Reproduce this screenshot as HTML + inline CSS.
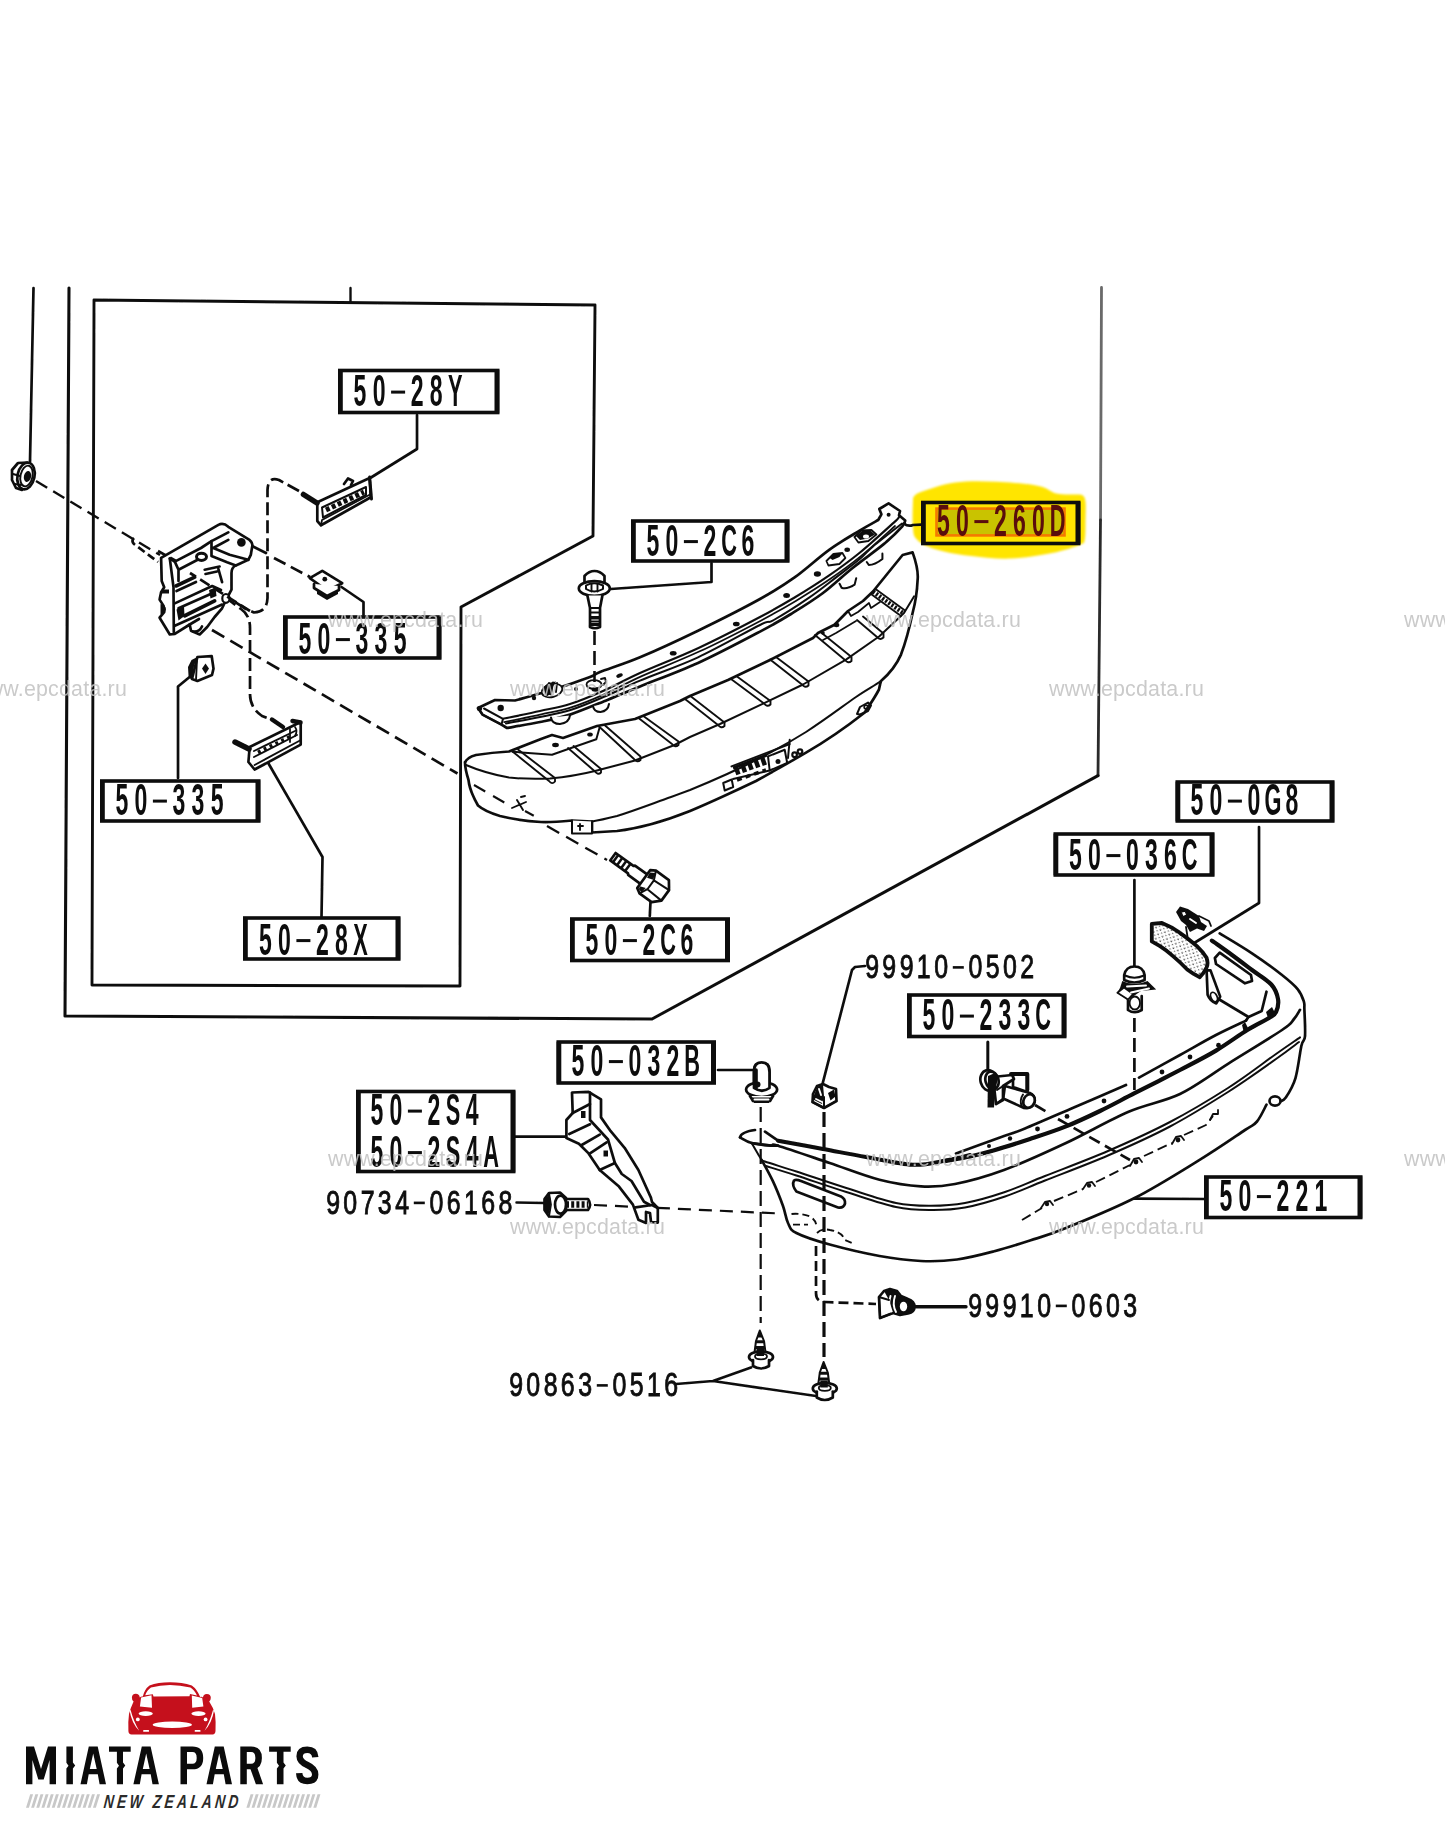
<!DOCTYPE html>
<html><head><meta charset="utf-8"><title>Rear bumper parts diagram</title>
<style>
html,body{margin:0;padding:0;background:#fff;}
body{width:1445px;height:1830px;overflow:hidden;font-family:"Liberation Sans",sans-serif;}
svg{display:block;position:absolute;left:0;top:0}
.ln{fill:none;stroke:#111;stroke-width:2.7;stroke-linecap:round;stroke-linejoin:round}
.th{fill:none;stroke:#111;stroke-width:1.9;stroke-linecap:round;stroke-linejoin:round}
.tk{fill:none;stroke:#0a0a0a;stroke-width:3.4;stroke-linecap:round;stroke-linejoin:round}
.ds{fill:none;stroke:#111;stroke-width:2.7;stroke-dasharray:13 6;stroke-linejoin:round}
.wf{fill:#fff;stroke:#111;stroke-width:2.7;stroke-linejoin:round;stroke-linecap:round}
.bk{fill:#111;stroke:none}
.wm{font-family:"Liberation Sans",sans-serif;font-size:21.4px;fill:#c2c2c2;letter-spacing:0.2px}
</style></head><body>
<svg width="1445" height="1830" viewBox="0 0 1445 1830">
<defs>
<filter id="soft" filterUnits="userSpaceOnUse" x="0" y="0" width="1445" height="1830"><feGaussianBlur stdDeviation="0.45"/></filter>
<filter id="hl" x="-5%" y="-10%" width="110%" height="120%"><feGaussianBlur stdDeviation="1.2"/></filter>
</defs>
<rect x="0" y="0" width="1445" height="1830" fill="#fff"/>
<g id="diagram" filter="url(#soft)">
<g id="frames">
<!-- yellow highlighter blob behind 50-260D -->
<path d="M913.1 497.7 C914.4 496.8 913.8 494.6 920.8 492.1 C927.8 489.6 942.7 484.2 955.4 482.5 C968.1 480.8 983.1 481.2 996.9 481.8 C1010.7 482.4 1028.5 483.9 1038.4 485.9 C1048.3 487.8 1050.3 492.1 1056.4 493.5 C1062.5 494.9 1070.6 494.2 1075.0 494.5 C1079.4 494.8 1081.0 494.2 1082.7 495.5 C1084.5 496.8 1085.0 497.9 1085.5 502.0 C1086.0 506.1 1085.6 513.8 1085.5 520.0 C1085.4 526.2 1085.7 535.1 1084.8 539.2 C1083.9 543.3 1085.3 542.4 1079.9 544.7 C1074.5 547.0 1063.7 550.7 1052.2 553.0 C1040.7 555.3 1024.5 558.1 1010.7 558.6 C996.9 559.1 981.9 557.4 969.2 555.8 C956.5 554.2 943.4 551.7 934.6 548.9 C925.8 546.1 920.2 543.1 916.6 539.2 C913.0 535.3 913.4 532.3 912.8 525.4 C912.2 518.5 913.0 502.3 913.1 497.7Z" fill="#ffe500" filter="url(#hl)"/>
<rect x="936.500" y="508.600" width="128" height="26.800" fill="#c9c300" stroke="#f47a00" stroke-width="2.600"/>
<!-- thin line top-left -->
<path class="th" d="M33.500 288 L30 462" style="stroke-width:2.700"/>
<!-- outer frame -->
<path class="ln" d="M1101.500 287.500 L1100.500 520" style="stroke:#6a6a6a;stroke-width:2.800"/>
<path class="ln" d="M1100.500 520 L1098 775.600" style="stroke:#2a2a2a;stroke-width:2.800"/>
<path class="ln" d="M1098 775.600 L652 1019 L65 1016 L69 288" style="stroke-width:3.100"/>
<!-- inner box -->
<path class="ln" d="M94 300 L595 305 L593 536 L461 607 L460 986 L92 985 Z" style="stroke-width:2.900"/>
<path class="th" d="M350.500 288 V302" style="stroke-width:2.400"/>
</g>
<g id="bar">
<path class="wf" d="M478 708 L495 700 L515.0 700.5 C521.7 698.6 542.5 692.9 555.0 689.0 C567.5 685.1 582.5 679.8 590.0 677.0 C597.5 674.2 591.7 675.3 600.0 672.0 C608.3 668.7 623.7 664.2 640.0 657.3 C656.3 650.4 678.0 640.4 698.0 630.7 C718.0 621.0 743.9 607.9 760.0 599.0 C776.1 590.1 783.1 585.6 794.6 577.4 C806.1 569.2 818.3 557.6 829.2 549.8 C840.1 542.0 851.8 535.4 860.0 530.4 C868.2 525.4 875.2 521.7 878.2 520.0 L881.4 514.3 L879.3 509 L888.6 503.4 L900 511 L899 515.3 L905.2 520.5 L905.2 520.5 C904.7 521.5 905.7 522.7 902.1 526.7 C898.5 530.7 891.7 537.5 883.4 544.4 C875.1 551.3 862.5 560.0 852.3 568.2 C842.1 576.4 832.5 585.9 822.3 593.5 C812.1 601.1 801.4 607.6 791.0 614.0 C780.6 620.4 775.5 623.4 760.0 631.6 C744.5 639.8 718.0 653.9 698.0 663.0 C678.0 672.1 655.0 680.3 640.0 686.4 C625.0 692.5 619.7 695.0 608.0 699.7 C596.3 704.4 581.3 710.9 570.0 714.6 C558.7 718.3 550.5 719.8 540.0 722.0 C529.5 724.2 512.5 727.0 507.0 728.0 L501.5 724.6 L482.5 714.6 Z"/>
<path class="ln" style="stroke-width:2.200" d="M503.0 718.8 C509.2 717.5 528.8 713.5 540.0 711.0 C551.2 708.5 559.5 707.3 570.0 704.0 C580.5 700.7 591.3 696.2 603.0 691.0 C614.7 685.8 624.2 680.1 640.0 673.0 C655.8 665.9 678.0 657.5 698.0 648.2 C718.0 638.9 743.9 625.5 760.0 617.0 C776.1 608.5 783.1 604.4 794.6 597.5 C806.1 590.6 818.3 582.9 829.2 575.4 C840.1 567.9 849.2 561.3 860.0 552.5 C870.8 543.7 887.3 528.5 893.8 522.6 C900.3 516.7 898.1 517.9 899.0 517.0"/>
<path class="ln" style="stroke-width:1.700" d="M504.2 722.2 C510.4 720.9 530.0 716.9 541.2 714.4 C552.4 711.9 560.7 710.7 571.2 707.4 C581.7 704.1 592.5 699.6 604.2 694.4 C615.9 689.2 625.4 683.5 641.2 676.4 C657.0 669.3 679.2 660.9 699.2 651.6 C719.2 642.3 745.1 628.9 761.2 620.4 C777.3 611.9 784.3 607.8 795.8 600.9 C807.3 594.0 819.5 586.3 830.4 578.8 C841.3 571.3 850.4 564.7 861.2 555.9 C872.0 547.1 889.4 531.0 895.0 526.0"/>
<path class="ln" style="stroke-width:2" d="M506.0 723.5 C511.7 722.4 529.0 719.3 540.0 717.0 C551.0 714.7 561.0 713.0 572.0 709.5 C583.0 706.0 594.7 700.8 606.0 696.0 C617.3 691.2 624.7 687.1 640.0 680.6 C655.3 674.1 678.0 666.6 698.0 657.3 C718.0 648.0 747.4 631.2 760.0 625.0 C772.6 618.8 765.7 624.5 773.8 620.0 C781.9 615.5 798.0 605.3 808.4 598.2 C818.8 591.1 827.5 584.0 836.1 577.4 C844.7 570.8 853.9 564.0 860.0 558.8 C866.1 553.6 866.0 552.3 873.0 546.4 C880.0 540.5 897.2 527.3 902.0 523.5"/>
<path class="ln" style="stroke-width:2" d="M478 708 L482.500 714.600 L501.500 724.600 L503 718.800 L484 708.500"/>
<path class="wf" style="stroke-width:2" d="M551 717.500 q1 6.500 9 6.500 q9 -1 10 -8.500 M593 706 q1 6 7.500 6 q7.500 -1 8.500 -8 M839.600 583.700 l2 4 q5 2 13 -3 l1.600 -6.500 M866.800 562 l2 3 q6 0 13.600 -6 l0 -5.500"/>
<circle class="bk" cx="500.700" cy="708" r="3.200"/><circle class="bk" cx="479.500" cy="708.500" r="2.600"/>
<circle class="bk" cx="534" cy="698" r="2.200"/><circle class="bk" cx="576" cy="689" r="2"/>
<ellipse class="bk" cx="619.500" cy="675.600" rx="3.400" ry="1.900" transform="rotate(-22 619.500 675.600)"/>
<ellipse class="bk" cx="673.200" cy="653.200" rx="3.400" ry="2.300"/>
<ellipse class="bk" cx="736.300" cy="624" rx="3.400" ry="2.300"/>
<ellipse class="bk" cx="786.600" cy="595.400" rx="3.400" ry="2.500"/>
<ellipse class="bk" cx="817.400" cy="574" rx="3.600" ry="2.700"/>
<ellipse class="bk" cx="847.200" cy="549.800" rx="2.800" ry="2.200"/><circle class="bk" cx="888.600" cy="514.800" r="2"/>
<ellipse cx="552" cy="690.500" rx="10.500" ry="6.500" class="wf" style="stroke-width:1.800" transform="rotate(-14 552 690.500)"/>
<path class="bk" d="M543 688 l5 -5 l8 -1.500 l-3 5 l-2 8 l-5 1.500 z"/>
<path class="th" d="M549 683 l-2 12 M553 682.500 l-2 12 M557 683 l-1 9"/>
<ellipse cx="594" cy="684.500" rx="7.500" ry="4.400" class="wf" style="stroke-width:1.800"/>
<ellipse cx="595.500" cy="689.500" rx="4" ry="2.200" class="bk"/>
<path class="th" d="M601 679 l4 -1 l1 4 l-3 3"/>
<path class="wf" style="stroke-width:1.800" d="M826.400 561 l7 -7 l9 -1 l3 5 l-6 6 l-11 1.500 z"/>
<path class="bk" d="M829 557.500 l6 -4.500 l7.500 0 l-3 4 l-7 3 z"/>
<path class="wf" style="stroke-width:1.800" d="M854.400 537 l7 -6.500 l10 -0.500 l5 4.500 l-8 6.500 l-10 1.500 z"/>
<path class="bk" d="M856 536 l6 -5 l9 0 l4 3.500 l-7 4 l-8 1.500 z"/>
<ellipse cx="866" cy="536.500" rx="3" ry="2" fill="#fff"/>
</g>
<path class="ln" d="M904 523.500 Q908 527 913 525 L921 524.600"/>
<g id="foam">
<!-- outer silhouette filled white -->
<path class="wf" d="M465 763 Q466.500 757.500 476 755 Q492 752.500 509 751.500 L541 739 L552 735 L563 738 L597 726 L635 719 L680 701 L690 696 L728 680 L770 660 L813 638 L818 633 L834.5 624.7 L848 611 L863 601 L873 591.5 L902.6 555 L912.6 552.4 C916 562 918.5 572 917.6 580 C917 594 915 604 912.6 613 C909 630 905 644 901 654.6 C896 666 889 674 881 681 C880 684 879.5 687 879 689.5 C874 699 869 706 864.4 712.7 C845 728 826 741 806 752.6 C790 762 774 771 756 781 C735 791 714 801 690 811 C665 821 642 828 617 831 L592 832.5 L592 821.5 L572 820.5 C556 822 548 822.5 541 822 C525 821 512 819 500 816 C490 813 482 809 478 805.5 C472 795 469 785 468.5 780 C466 772 465 767 465 762 Z"/>
<!-- front-top edge -->
<path class="ln" d="M466 765 C480 771 495 775 509 777.6 C523 779 537 779 550 778.5 C566 777 581 774.5 595 771 L635 760.5 L674.5 745 L690 737 L720 724 L764.7 702.8 L803 684.5 L846 659.6 L879.4 636.3 L904 613 L914 596.4" style="stroke-width:2"/>
<!-- bottom of front face (upper branch) -->
<path class="ln" d="M592 821.5 C601 820 609 818 617 816 C636 810 654 803 671 797 L690 790 C712 781 735 771 756 760 C774 751 790 742 806 732 C826 719 843 706 856 697 C866 690 874 686 881 681" style="stroke-width:2"/>
<!-- tab under -->
<path class="wf" d="M572 820.5 L572 833.5 L592 833.5 L592 821.5" style="stroke-width:2"/>
<path class="th" d="M580 824 v6 M578 826 h5"/>
<!-- ribs (double lines with rounded front ends) -->
<g class="ln" style="stroke-width:1.9">
<path d="M512.5 751.5 L549 781 q3 4 6 0.5 L555 778 L518 749.5"/>
<path d="M568 748 L595 771.5 q3 4 6 1 L601 769 L573.5 746"/>
<path d="M599 726.5 L634 759 q3 4 6.5 1 L640.5 756.5 L604.5 725"/>
<path d="M638.5 718 L672 744 q3 4 6.5 1 L678.5 741.5 L644 716.5"/>
<path d="M685 699 L718 725 q3 4 6.5 1 L724.5 722.5 L691 696.5"/>
<path d="M731 679 L764 703.5 q3 4 6.500 1 L770.5 701 L737 676.5"/>
<path d="M770 659.5 L802 684.5 q3 4 6.500 1 L808.5 681.500 L776 657"/>
<path d="M815 635 L845 660 q3 4 6.500 1 L851.5 657 L820.5 632"/>
<path d="M857 620 L877 637 q3 3.500 6.500 0.500 L883.5 633.500 L863 616.5"/>
</g>
<!-- hatched last rib -->
<path d="M873 591.5 L903 613" stroke="#111" stroke-width="4.2" stroke-dasharray="2.2 1.6" fill="none"/>
<path class="th" d="M871 594 L901 616 M875.5 589 L905 610.5"/>
<!-- step plates -->
<path class="ln" d="M512.500 751.800 L535 753.500 L552 754.800 L567.500 749.200 L596.300 739.300 L599.600 727.600" style="stroke-width:2"/>
<ellipse class="bk" cx="555.5" cy="745" rx="3.4" ry="2.2"/><ellipse class="bk" cx="590" cy="734.500" rx="2.8" ry="2"/>
<path class="ln" d="M823 640 L836 633 L856 621 M848 611 L851 616 L858 612 L869 603 L871 608 L880 602" style="stroke-width:1.8"/>
<ellipse class="bk" cx="836.5" cy="625" rx="2.8" ry="2.2"/>
<circle class="bk" cx="823" cy="633" r="1.8"/>
<!-- small clip symbol near right end of face -->
<path class="ln" d="M857 714 l3 -7 l8 -4.500 l3 3 l-3 5.500 l-8 3.500 z" style="stroke-width:2"/><circle class="ln" cx="866" cy="707" r="1.800" style="stroke-width:1.800"/>
<!-- licence-lamp-ish detail cluster on front face -->
<g class="ln" style="stroke-width:2">
<path d="M723.200 783 l8.500 -3.500 l1.500 7.500 l-8.500 3.500 z"/>
<path d="M731.500 766.400 L789.700 744"/>
<path d="M768 756.400 L784.700 749.800 L787.200 763 L769.700 770.500 Z"/>
<path d="M789.700 739.800 L788 758"/>
<path d="M733 779 L769.700 770.500"/>
</g>
<path d="M735 771.500 L766 760.500" stroke="#111" stroke-width="8" stroke-dasharray="4.500 2.500" fill="none"/>
<path d="M733 768 L767 755" stroke="#111" stroke-width="3" fill="none"/>
<path d="M737 780 L766 770" stroke="#111" stroke-width="3.500" stroke-dasharray="5 4" fill="none"/>
<circle class="bk" cx="778" cy="761.400" r="2.500"/>
<circle class="ln" cx="794.600" cy="754.700" r="2.300" style="stroke-width:2.200"/><circle class="ln" cx="800" cy="751.600" r="2.300" style="stroke-width:2.200"/>
<!-- dashed crosshair on left face -->
<path class="ds" d="M474 785 L506 803.500" style="stroke-width:2.100;stroke-dasharray:13 9"/><path class="ds" d="M525 811 L536 817" style="stroke-width:2.100;stroke-dasharray:10 6"/>
<path class="th" d="M517 800 l6 10 M512 808 l14 -6 M521 797 l4 -1"/>
</g>
<g id="dashes-left">
<!-- nut to bracket -->
<path class="ds" d="M36 481 L160 555" style="stroke-width:2.400;stroke-dasharray:13 7"/>
<path class="ds" d="M134 538 q-3 3 0 6 L158 562" style="stroke-dasharray:8 4"/>
<!-- long dashed line bracket -> lower bolt -->
<path class="ds" d="M212 630 L457.500 773.500" style="stroke-dasharray:14.200 7"/>
<path class="ds" d="M547 826 L607 860" style="stroke-width:2.300;stroke-dasharray:14 8"/>
<!-- rounded dashed loop (to 50-28Y clip) -->
<path class="ds" d="M299 491 L279 480 Q268 476 267.500 490 L267.500 598 Q267 612 254 612.500 L246 609 L190 573" style="stroke-dasharray:13 5"/>
<!-- bracket hole to top 50-335 clip -->
<path class="ln" d="M252 546 L266 553"/>
<path class="ds" d="M274 558 L310 577"/>
<!-- lower loop to 50-28X clip -->
<path class="ds" d="M225 597 L241 609 Q250 615 250 628 L250 694 Q250 708 262 716 L273 720" style="stroke-dasharray:13 5"/>
</g>
<g id="leaders-left">
<path class="ln" d="M417 415 L417 449 L371 477.500"/>
<path class="ln" d="M341.500 587 L363.500 602 L363.500 615"/>
<path class="ln" d="M189 677.500 L178 686.500 L178 778"/>
<path class="ln" d="M268.500 763.500 L322.500 857 L321.500 917"/>
</g>
<g id="nut">
<path class="wf" d="M12 470 L18 463 L27 462.500 L22 490 L16 488 L12 480 Z"/>
<ellipse class="wf" cx="26" cy="476" rx="8.500" ry="13.500" transform="rotate(12 26 476)"/>
<ellipse class="th" cx="26.500" cy="476" rx="6" ry="10.500" transform="rotate(12 26.500 476)"/>
<ellipse class="bk" cx="27.500" cy="476.500" rx="3.600" ry="5.500" transform="rotate(12 27.500 476.500)"/>
<path class="th" d="M13 474 L20 476 M15 484 L21 485"/>
</g>
<g id="bracket">
<path class="wf" d="M161.100 557.900 L218.400 524.900 Q223.400 522.400 228.300 526.800 L249.500 539.900 Q253 543 252.300 546 L250.800 554.800 L248.300 559.800 L235.800 565.400 Q231.500 567.500 231.500 573 L231.500 589.700 L226 600 L222.100 608.300 L214.600 617 L207.200 627 L199.700 634.500 L191 630.800 L189.700 624.500 L174.800 633.900 L169.800 634.500 L159.600 617.700 L164.200 612.100 L163.600 605.900 L159.600 599.600 L161.100 592.200 L164.200 587.200 L161.700 580.900 Z"/>
<path class="ln" d="M169.800 558.500 L173.500 587.200 L173.800 632"/>
<path class="ln" d="M169.800 558.500 L174.800 561.600 L201 548 L211.500 541.100 L228.300 532.400"/>
<path class="ln" d="M211.500 541.100 L211.500 556 L227.100 562.300 L235.800 565.400 M211.500 547.300 L229.600 554.800 L248.300 559.800 M214.600 547.300 L228.300 539.900"/>
<path class="ln" d="M174.800 561.600 L178.500 569.700 L178.500 581 M178.500 569.700 L201 558"/>
<path class="ln" style="stroke-width:3.600" d="M176 586 L194.700 577.200"/>
<path class="ln" d="M176.500 591 L196 582"/>
<path class="ln" d="M174.800 603.400 L212.200 586 L221 590"/>
<path class="ln" d="M178.500 608.300 L214.600 592.200"/>
<path class="ln" style="stroke-width:3.800" d="M184.800 615.800 L214.600 600.900"/>
<path class="ln" d="M174.800 625.800 L222.100 604.600"/>
<path class="ln" d="M204.700 569.700 L219.600 566.500 M205.500 574 L217 571.500 M218.400 569 L222.100 582.200"/>
<circle class="bk" cx="241.400" cy="542.400" r="4.300"/>
<ellipse class="wf" cx="201.500" cy="556.800" rx="5" ry="3.600" style="stroke-width:3"/>
<path class="bk" d="M209 590 L215.500 587.500 L216.500 596 L210.500 598.500 Z M176.500 609.500 L184 606 L184.500 616 L178.500 620.500 Z M160.500 604 q5.500 1 5.500 5.500 q-1 4.500 -5.500 5 z M162 589.500 h7 v4 h-7 z"/>
<ellipse class="wf" cx="225.900" cy="598.400" rx="3.600" ry="4.400" style="stroke-width:2.200"/>
<path class="ln" d="M189.700 624.500 L199 619 M193 631.500 q6 1 9 -5"/>
</g>
<path class="ds" style="stroke-dasharray:11 5" d="M250 611 L190 573"/>
<path class="ds" style="stroke-dasharray:9 5" d="M158 551 L176 561"/>
<g id="clip28Y">
<path class="wf" d="M317.300 502.300 L369.600 478 L370.800 497.300 L321 525.300 L317.300 521 Z"/>
<path class="ln" d="M322 507.500 L366 487 L366 495 L323 517.500 Z" style="stroke-width:2"/>
<path d="M326 510 L364 492" stroke="#111" stroke-width="5" stroke-dasharray="4 2.500" fill="none"/>
<path class="ln" d="M321 525.300 L322 520 L371 494" style="stroke-width:1.800"/>
<path class="ln" d="M344 484 L348 478.500 L353 481 L351 485"/>
<path d="M303.500 494.500 L317 503" stroke="#111" stroke-width="5.500" stroke-linecap="round" fill="none"/>
<path class="tk" d="M369.600 477 L371.500 499" style="stroke-width:3"/>
</g>
<g id="clip335a">
<path class="wf" d="M309.800 578.200 L322.300 570.800 L342.200 583.200 L327.200 590.500 Z"/>
<path class="wf" d="M314 584 L314 588 L327 596 L339 590 L339 586"/>
<path class="bk" d="M317 590 L327 596.500 L338 591 L338 594 L327 600 L317 594 Z"/>
<circle class="bk" cx="324.800" cy="579.200" r="2.400"/>
</g>
<g id="clip335b">
<path class="wf" d="M197.400 657 L211.700 656.200 L213.500 668.600 L212 675 L197.400 681 L192 679 Z"/>
<path class="bk" d="M197.400 657 L191.500 660 L188 667 L188.600 677.400 L192.500 680 L194 666 Z"/>
<path class="th" d="M197 659 L196 680"/>
<path class="bk" d="M205.500 663.500 L209 668.600 L205.500 674 L202 668.600 Z"/>
</g>
<g id="clip28X">
<path class="wf" d="M249.700 747 L300.700 722 L300.700 744.600 L254.600 769.500 L248.400 762 Z"/>
<path class="ln" d="M254 751 L296 730.500 M254 757 L297 735 M254.600 765 L300 740.500" style="stroke-width:1.900"/>
<path d="M258 752.500 L292 736" stroke="#111" stroke-width="4" stroke-dasharray="3 3.500" fill="none"/>
<path class="ln" d="M290 729 L290 742 M295 727 q3 4 0 9" style="stroke-width:1.800"/>
<path d="M235 742 L249 749" stroke="#111" stroke-width="5.500" stroke-linecap="round" fill="none"/>
<path d="M272 719.500 L283 727" stroke="#111" stroke-width="4.500" stroke-linecap="round" fill="none"/>
<path d="M292.500 721 L300.500 722.500" stroke="#111" stroke-width="4.500" stroke-linecap="round" fill="none"/>
</g>
<g id="boltTop">
<path class="ln" d="M711.500 563 L711.500 582 L610.700 589"/>
<path class="wf" d="M584.500 583 L584.500 576 Q589 571 594.500 571 Q600 571 604.500 576 L604.500 583"/>
<ellipse class="wf" cx="594.300" cy="588.500" rx="15.500" ry="7.300"/>
<path class="wf" d="M586 585.500 Q594 581 603 585.500 L603 589 Q594 594 586 589 Z" style="stroke-width:2"/>
<path class="th" d="M591.500 584 v7.500 M597.500 584 v7.500"/>
<path class="wf" d="M587.400 595.500 L590 608 L590 627 Q595 629.500 600 627 L600 608 L602.400 595.500"/>
<path class="th" d="M590 608 h10 M590 612.500 h10 M590 617 h10 M590 621.500 h10"/>
<path class="bk" d="M590 616 h10 v3.500 h-10z M590 623 h10 v3 h-10z"/>
<path class="ds" d="M594.500 631 L594.500 682" style="stroke-width:2.600;stroke-dasharray:14 6"/>
</g>
<g id="boltLow">
<path class="ln" d="M650.600 900 L649.800 916"/>
<g transform="translate(655 887.300) rotate(36)">
<path class="wf" d="M-52 -4.600 L-30 -4.600 L-29 -5.800 L-13 -5.800 L-13 5.800 L-29 5.800 L-30 4.600 L-52 4.600 Z"/>
<path d="M-50 0 L-31 0" stroke="#111" stroke-width="9.500" stroke-dasharray="2.600 2.400" fill="none"/>
<path class="wf" d="M-14 -11 L-9 -14 L7 -14 L13 -6 L13 7 L6 14 L-9 14 L-14 11 Z"/>
<path class="ln" d="M-9 -14 L-5 -5 L-5 6 L-9 14 M-5 -5 L13 -6 M-5 6 L13 7" style="stroke-width:2"/>
<path class="bk" d="M-13 -9 L-8 -12 L-6 -5 L-12 -3 Z M-13 8 L-7 6 L-8 12 L-12 11Z"/>
</g>
</g>
<g id="bumper">
<path class="wf" d="M740.0 1137.4 C740.5 1136.5 740.5 1133.2 743.0 1132.0 C745.5 1130.8 751.3 1130.1 755.0 1130.0 C758.7 1129.9 761.2 1129.8 765.0 1131.6 C768.8 1133.4 768.3 1137.8 778.0 1140.7 C787.7 1143.6 808.3 1146.3 823.0 1149.0 C837.7 1151.7 851.0 1154.4 866.0 1157.0 C881.0 1159.6 899.4 1164.2 912.7 1164.8 C926.0 1165.4 938.8 1162.4 946.0 1160.5 C953.2 1158.6 947.0 1157.2 956.0 1153.4 C965.0 1149.6 988.5 1141.7 1000.0 1137.5 C1011.5 1133.3 1012.5 1133.6 1025.0 1128.5 C1037.5 1123.4 1058.2 1114.2 1075.0 1107.0 C1091.8 1099.8 1115.3 1089.9 1126.0 1085.0 C1136.7 1080.1 1130.0 1082.6 1139.0 1077.6 C1148.0 1072.6 1167.2 1062.1 1180.0 1055.0 C1192.8 1047.9 1205.0 1040.7 1216.0 1035.0 C1227.0 1029.3 1238.4 1024.6 1246.0 1020.6 C1253.6 1016.6 1258.3 1015.8 1261.7 1011.0 C1265.1 1006.2 1268.1 998.5 1266.5 991.7 C1264.9 984.9 1257.8 976.1 1252.0 970.0 C1246.2 963.9 1238.7 959.9 1232.0 955.0 C1225.3 950.1 1214.0 944.2 1211.9 940.6 C1209.9 937.0 1213.0 931.3 1219.7 933.4 C1226.4 935.5 1241.6 946.4 1252.0 953.3 C1262.4 960.2 1274.4 969.0 1282.0 975.0 C1289.6 981.0 1294.2 984.9 1297.8 989.3 C1301.4 993.7 1302.7 997.9 1303.8 1001.3 C1304.9 1004.7 1304.2 1004.0 1304.4 1009.8 C1304.6 1015.6 1305.5 1030.2 1305.0 1036.2 C1304.5 1042.2 1303.0 1038.8 1301.4 1045.8 C1299.8 1052.8 1298.0 1069.7 1295.4 1078.3 C1292.8 1086.9 1288.4 1093.6 1285.8 1097.5 C1283.2 1101.4 1283.2 1100.3 1280.0 1101.5 C1276.8 1102.7 1270.3 1101.4 1266.5 1104.7 C1262.7 1108.0 1260.6 1117.3 1257.0 1121.5 C1253.4 1125.7 1254.5 1123.7 1245.0 1130.0 C1235.5 1136.3 1218.4 1148.3 1200.0 1159.6 C1181.6 1170.9 1156.9 1186.6 1134.6 1198.0 C1112.3 1209.4 1083.4 1220.9 1066.0 1228.0 C1048.6 1235.1 1042.1 1236.6 1030.0 1240.5 C1017.9 1244.4 1005.6 1248.3 993.4 1251.5 C981.2 1254.7 969.1 1257.9 957.0 1259.5 C944.9 1261.1 933.9 1261.6 921.0 1261.0 C908.1 1260.4 894.7 1258.8 879.5 1256.0 C864.3 1253.2 843.6 1248.3 829.7 1244.5 C815.9 1240.7 803.4 1236.6 796.4 1233.0 C789.4 1229.4 790.2 1227.5 788.0 1223.0 C785.8 1218.5 785.5 1212.9 783.0 1206.0 C780.5 1199.1 776.6 1189.1 773.0 1181.4 C769.4 1173.7 765.2 1166.2 761.6 1159.8 C758.0 1153.4 755.2 1146.7 751.6 1143.0 C748.0 1139.3 741.9 1138.3 740.0 1137.4Z" style="stroke:none"/>
<path class="ln" d="M740 1137.400 Q741 1132 755 1130 M765 1131.600 L778 1140.700 M751.600 1143 L771.500 1145.700 L778 1145.700"/>
<path class="tk" d="M778.0 1140.7 C785.5 1142.1 808.3 1146.3 823.0 1149.0 C837.7 1151.7 851.0 1154.4 866.0 1157.0 C881.0 1159.6 899.4 1164.2 912.7 1164.8 C926.0 1165.4 936.5 1162.1 946.0 1160.5 C955.5 1158.9 966.0 1155.9 970.0 1155.0" style="stroke-width:4"/>
<path class="tk" d="M946.0 1161.0 C950.0 1160.2 962.1 1158.2 970.0 1156.5 C977.9 1154.8 983.4 1153.4 993.4 1150.5 C1003.4 1147.6 1017.9 1143.0 1030.0 1139.0 C1042.1 1135.0 1054.3 1131.1 1066.0 1126.4 C1077.7 1121.7 1088.6 1116.5 1100.0 1111.0 C1111.4 1105.5 1121.3 1100.0 1134.6 1093.2 C1147.9 1086.4 1166.4 1077.1 1180.0 1070.0 C1193.6 1062.9 1204.8 1057.3 1216.0 1050.6 C1227.2 1043.9 1238.5 1035.4 1247.3 1030.0 C1256.1 1024.6 1264.2 1021.0 1269.0 1018.0 C1273.8 1015.0 1274.5 1015.2 1276.0 1012.0 C1277.5 1008.8 1278.8 1003.6 1278.0 999.0 C1277.2 994.4 1275.6 989.3 1271.3 984.5 C1267.0 979.7 1258.5 974.9 1252.0 970.0 C1245.5 965.1 1238.7 959.9 1232.0 955.0 C1225.3 950.1 1215.2 943.0 1211.9 940.6" style="stroke-width:4.200"/>
<path class="ln" d="M956.0 1153.4 C963.3 1150.8 988.5 1141.7 1000.0 1137.5 C1011.5 1133.3 1012.5 1133.6 1025.0 1128.5 C1037.5 1123.4 1058.2 1114.2 1075.0 1107.0 C1091.8 1099.8 1117.5 1088.7 1126.0 1085.0"/>
<path class="ln" d="M1139.0 1077.6 C1145.8 1073.8 1167.2 1062.1 1180.0 1055.0 C1192.8 1047.9 1205.0 1040.7 1216.0 1035.0 C1227.0 1029.3 1241.0 1023.0 1246.0 1020.6"/>
<path class="ln" d="M740.0 1137.4 C741.9 1138.3 746.4 1141.6 751.6 1143.0 C756.9 1144.4 767.1 1145.2 771.5 1145.7 C775.9 1146.2 768.3 1142.8 778.0 1145.7 C787.7 1148.6 812.8 1157.3 829.7 1163.0 C846.6 1168.7 864.3 1175.9 879.5 1179.8 C894.7 1183.7 908.4 1185.7 921.0 1186.4 C933.6 1187.1 941.2 1186.7 955.0 1184.0 C968.8 1181.3 985.5 1176.8 1004.0 1170.0 C1022.5 1163.2 1045.3 1152.7 1066.0 1143.0 C1086.7 1133.3 1109.0 1120.2 1128.0 1112.0 C1147.0 1103.8 1163.3 1102.0 1180.0 1094.0 C1196.7 1086.0 1211.0 1074.5 1228.0 1063.8 C1245.0 1053.1 1271.0 1037.5 1282.0 1030.0 C1293.0 1022.5 1291.0 1022.4 1294.0 1019.0 C1297.0 1015.6 1299.0 1011.3 1300.0 1009.8"/>
<path class="ln" d="M751.6 1143.0 C753.3 1145.8 759.4 1156.7 761.6 1159.8 C763.8 1162.9 759.1 1159.5 764.9 1161.5 C770.7 1163.5 782.8 1167.1 796.4 1171.5 C810.0 1175.9 829.7 1182.8 846.3 1188.0 C862.9 1193.2 881.9 1200.0 896.0 1203.0 C910.1 1206.0 919.5 1205.8 931.0 1205.8 C942.5 1205.8 952.7 1205.3 965.0 1203.0 C977.3 1200.7 991.7 1196.5 1005.0 1192.0 C1018.3 1187.5 1027.8 1182.8 1045.0 1176.0 C1062.2 1169.2 1087.2 1160.0 1108.0 1151.0 C1128.8 1142.0 1150.0 1132.5 1170.0 1122.0 C1190.0 1111.5 1210.3 1099.3 1228.0 1088.0 C1245.7 1076.7 1264.0 1062.4 1276.0 1054.0 C1288.0 1045.6 1296.0 1040.2 1300.0 1037.4" style="stroke-width:2"/>
<path class="ln" d="M766.0 1166.0 C771.1 1167.6 783.0 1171.2 796.4 1175.5 C809.8 1179.8 829.7 1186.8 846.3 1192.0 C862.9 1197.2 881.9 1204.0 896.0 1207.0 C910.1 1210.0 919.5 1209.9 931.0 1210.0 C942.5 1210.1 952.7 1209.8 965.0 1207.5 C977.3 1205.2 991.7 1201.0 1005.0 1196.5 C1018.3 1192.0 1027.8 1187.3 1045.0 1180.5 C1062.2 1173.7 1087.2 1164.5 1108.0 1155.5 C1128.8 1146.5 1150.0 1137.1 1170.0 1126.5 C1190.0 1115.9 1210.3 1103.2 1228.0 1092.0 C1245.7 1080.8 1264.2 1067.3 1276.0 1059.0 C1287.8 1050.7 1295.2 1044.8 1299.0 1042.0" style="stroke-width:2"/>
<path class="ln" d="M761.6 1159.8 C763.5 1163.4 769.4 1173.7 773.0 1181.4 C776.6 1189.1 780.5 1199.1 783.0 1206.0 C785.5 1212.9 785.8 1218.5 788.0 1223.0 C790.2 1227.5 789.4 1229.4 796.4 1233.0 C803.4 1236.6 815.9 1240.7 829.7 1244.5 C843.6 1248.3 864.3 1253.2 879.5 1256.0 C894.7 1258.8 908.1 1260.4 921.0 1261.0 C933.9 1261.6 944.9 1261.1 957.0 1259.5 C969.1 1257.9 981.2 1254.7 993.4 1251.5 C1005.6 1248.3 1017.9 1244.4 1030.0 1240.5 C1042.1 1236.6 1048.6 1235.1 1066.0 1228.0 C1083.4 1220.9 1112.3 1209.4 1134.6 1198.0 C1156.9 1186.6 1181.6 1170.9 1200.0 1159.6 C1218.4 1148.3 1235.5 1136.3 1245.0 1130.0 C1254.5 1123.7 1253.4 1125.7 1257.0 1121.5 C1260.6 1117.3 1264.9 1107.5 1266.5 1104.7"/>
<path class="ln" d="M1219.7 933.4 C1225.1 936.7 1241.6 946.4 1252.0 953.3 C1262.4 960.2 1274.4 969.0 1282.0 975.0 C1289.6 981.0 1294.2 984.9 1297.8 989.3 C1301.4 993.7 1302.7 997.9 1303.8 1001.3 C1304.9 1004.7 1304.2 1004.0 1304.4 1009.8 C1304.6 1015.6 1305.5 1030.2 1305.0 1036.2 C1304.5 1042.2 1303.0 1038.8 1301.4 1045.8 C1299.8 1052.8 1298.0 1069.7 1295.4 1078.3 C1292.8 1086.9 1288.4 1093.6 1285.8 1097.5 C1283.2 1101.4 1281.0 1100.8 1280.0 1101.5"/>
<g class="bk"><circle cx="989" cy="1146" r="2"/><circle cx="1010" cy="1138.500" r="2.200"/><circle cx="1037.500" cy="1129" r="2.400"/><circle cx="1067" cy="1116.400" r="2.400"/><circle cx="1104" cy="1101" r="2.400"/><circle cx="1162" cy="1072" r="2.400"/><circle cx="1190" cy="1057" r="2.400"/><circle cx="1218.500" cy="1045.200" r="2.400"/></g>
<path class="ln" d="M794 1180.500 Q791.500 1185 796.400 1191.500 L838 1207.500 Q843.500 1208.500 845 1203.500 Q845.500 1199 841 1196.400 L801 1181 Q796 1179 794 1180.500 Z"/>
<path class="ln" d="M1219.700 952.700 L1251 975 L1252 981 L1245 983.300 L1216 964 L1214.900 958 Z"/>
<path class="ln" d="M1218.500 999 L1248.500 1017 L1261.700 1011 L1266.500 991.700 M1246 1020.600 L1248.500 1017"/>
<path class="bk" d="M1266 1012 l6 -5 l3 6 l-7 5 z M1245 1022 l4 8 l-5 3 l-2 -8z"/>
<ellipse class="wf" cx="1275" cy="1101" rx="5.500" ry="4.600"/>
<path class="ds" d="M1022 1220 L1042 1208 M1054 1201 L1083 1189 M1096 1182 L1130 1165 M1144 1156 L1172 1143 M1184 1135 L1206 1125 L1213 1116" style="stroke-width:1.900;stroke-dasharray:10 5"/>
<g class="ln" style="stroke-width:1.800"><path d="M1041 1208 l4 -6 l5 -1 l3 4"/><path d="M1083 1189 l4 -6 l5 -1 l3 4"/><path d="M1130 1166 l4 -7 l5 -1 l3 4"/><path d="M1172 1144 l4 -7 l5 -1 l3 4"/><path d="M1210 1120 l3 -6 l5 0 l0 -4"/></g>
<g class="bk"><circle cx="1047" cy="1204" r="2.200"/><circle cx="1089" cy="1185.500" r="2.200"/><circle cx="1136" cy="1162" r="2.400"/><circle cx="1178" cy="1140" r="2.400"/></g>
<path class="ds" d="M791.500 1214 Q800 1213 809.700 1216.300 Q816 1220 816.400 1226 M793 1224.600 L808 1224.600 M817 1233 Q822 1228 830 1230 Q842 1232 845 1240 L852 1243" style="stroke-width:1.900;stroke-dasharray:7 4"/>
</g>
<g id="dashes-right">
<path class="ds" d="M594 1205 L780 1213.500" style="stroke-width:2.200;stroke-dasharray:13 8"/>
<path class="ds" d="M760.700 1107 L760.700 1323" style="stroke-width:2.200;stroke-dasharray:15 6"/>
<path class="ds" d="M824 1112 L824 1357" style="stroke-width:3.200;stroke-dasharray:15 6"/>
<path class="ds" d="M816 1246 L816 1293 Q816 1302 825 1302 L876 1304" style="stroke-dasharray:10 5"/>
<path class="ds" d="M1134.400 1018 L1134.400 1090" style="stroke-dasharray:14 6"/>
<path class="ds" d="M1035 1105 L1047 1112 M1058 1119 L1130 1160" style="stroke-dasharray:12 6"/>
</g>
<g id="leaders-right">
<path class="ln" d="M515.200 1136.700 L566.400 1136.700"/>
<path class="ln" d="M516.600 1202.500 L544.300 1203"/>
<path class="ln" d="M718 1070 L754 1070"/>
<path class="ln" d="M865 966 L855 967 L852 970 L822.500 1084"/>
<path class="ln" d="M987.800 1042 L987.800 1071" style="stroke-width:3"/>
<path class="ln" d="M1134.400 880 L1134.400 966"/>
<path class="ln" d="M1259 827 L1259 903 L1195 942.500"/>
<path class="ln" d="M1204 1199 L1134.500 1198.700"/>
<path class="ln" d="M914 1306.700 L966 1306.700" style="stroke-width:3.400"/>
<path class="ln" d="M676 1384 L713 1381 L751 1367.500 M713 1381 L816 1396"/>
</g>
<g id="br2S4">
<path class="wf" d="M572 1092.500 L588.600 1091.800 L601 1099.400 L601 1117.400 L610.700 1131.200 L624.600 1147.800 L638.400 1170 L650.900 1197.600 L652 1202 L657.800 1208 L657.800 1222.600 L651 1222 L650 1213 L646 1212 L646 1223 L638.400 1219.800 L632.900 1204.600 L619 1186.600 L599.700 1170 L588.600 1153.400 L578.900 1143.700 L566.400 1138 L566.400 1120 L572.700 1113 Z"/>
<path class="ln" d="M590 1092.500 L590 1120 L608 1139.500 L614.900 1163 L621.800 1174 L631.500 1181 L644 1201.800 L650 1205"/>
<path class="ln" d="M572.700 1113 L590 1104 M569.200 1134 L590 1124.300 M581.700 1145 L599.700 1134.700 M590 1153.400 L606.600 1142.300 M599.700 1170 L614.900 1163"/>
<path class="ln" d="M635.600 1207.300 L652 1205 L657.800 1208"/>
<rect class="bk" x="581" y="1111" width="4.500" height="7"/>
<rect class="bk" x="603.500" y="1150.500" width="4.500" height="6"/>
</g>
<g id="bolt90734">
<path class="wf" d="M562 1199 L588 1199 Q592 1204.600 588 1210 L562 1210 Z"/>
<path d="M566 1204.600 L588 1204.600" stroke="#111" stroke-width="6.500" stroke-dasharray="3 2.200" fill="none"/>
<path class="wf" d="M549 1193 L560 1192.500 L566 1198 L566 1211 L560 1217 L549 1216.500 L544.500 1210 L544.500 1199 Z"/>
<ellipse class="wf" cx="560.500" cy="1204.600" rx="5.500" ry="9"/>
<path class="ln" d="M549 1193 L551 1204.600 L549 1216.500 M544.500 1204 L551 1204.600" style="stroke-width:1.800"/>
<path class="bk" d="M545 1199 l4 -5 l2 6 l-1 10 l-2 6 l-3 -6 z"/>
</g>
<g id="clip032B">
<path class="wf" d="M754 1090 L754 1070 Q754 1062.500 761.500 1062.500 Q769.500 1062.500 769.500 1070 L769.500 1090"/>
<ellipse class="wf" cx="761.600" cy="1089.500" rx="15.500" ry="7.500"/>
<path class="wf" d="M754 1088 L754 1072 Q754 1062.500 761.500 1062.500 Q769.500 1062.500 769.500 1072 L769.500 1088 Q762 1093.500 754 1088 Z"/>
<path class="tk" d="M756 1070 L756 1088" style="stroke-width:3.600"/>
<circle class="bk" cx="757.500" cy="1084.500" r="3"/>
<path class="wf" d="M750 1096 L753 1101 L770 1101 L773 1096"/>
<path class="bk" d="M752 1097.500 h19 l-2 5.500 h-15 z"/>
<path class="th" d="M754.500 1099.500 h14" style="stroke:#fff"/>
</g>
<g id="clip0502">
<path class="wf" d="M813 1094 L817 1086 L823 1084 L829 1087 L836 1089 L836.500 1101 L824 1108 L812.500 1102 Z"/>
<path class="bk" d="M814 1095 L817.500 1086.500 L823 1084.500 L824 1096 L822 1104 L814 1100 Z M828 1093 l6 -3.500 l1.500 7 l-5 4 z"/>
<path class="th" d="M819 1089 l2 6 M816 1099 l7 3.500" style="stroke:#fff"/>
<path class="ln" d="M812.500 1102 L824 1108 L836.500 1101 M824 1097 L824 1108" style="stroke-width:2"/>
</g>
<g id="clip233C">
<path class="wf" d="M1013 1074 L1027.300 1074 L1027.300 1092 L1013 1087 Z"/>
<path class="tk" d="M1011 1074 L1027.300 1074 L1027.300 1090" style="stroke-width:4"/>
<path class="wf" d="M1004.900 1086 L1029.800 1093 Q1036 1096 1034.500 1102.500 Q1032 1109 1024 1108 L1003.200 1098.500 Z"/>
<ellipse class="wf" cx="1029" cy="1101" rx="5.500" ry="7" transform="rotate(25 1029 1101)"/>
<path class="ln" d="M1023 1094.500 q-4 6 -1 12" style="stroke-width:2"/>
<path class="wf" d="M993 1077 L1012 1075 L1014 1079 L1003 1086 L1003 1100 L996 1104 Z"/>
<ellipse class="wf" cx="989" cy="1080.500" rx="8.500" ry="10.500" transform="rotate(-15 989 1080.500)"/>
<ellipse class="wf" cx="992" cy="1080.500" rx="6.500" ry="9" transform="rotate(-15 992 1080.500)"/>
<path class="bk" d="M988 1076 L996 1072.500 L998 1078 L995 1092 L994 1107.500 L987.500 1107.500 Z"/>
<path class="ln" d="M997 1090 L1003 1086 M996 1104 L1003.200 1098.500" style="stroke-width:2"/>
</g>
<g id="clip036C">
<path class="wf" d="M1124.200 980 L1124.200 975 Q1126 966.500 1134.400 966.500 Q1143 966.500 1144.600 975 L1144.600 980 Q1134.400 985 1124.200 980 Z"/>
<path class="ln" d="M1125 975.500 Q1134.400 980 1144 975.500" style="stroke-width:2"/>
<path class="wf" d="M1128 998 L1128 1010 Q1134.500 1014.500 1141.700 1010 L1141.700 996"/>
<ellipse class="wf" cx="1134.800" cy="1003" rx="5.200" ry="6.500" style="stroke-width:1.800"/>
<path class="bk" d="M1122.300 981 Q1134.400 987 1147.500 981 L1156.200 989.500 L1141 991 L1128 1000 L1117 993 L1120 988 Z"/>
<path class="wf" d="M1117.400 992.700 L1124 987.500 L1133 994 L1128 999.500 Z" style="stroke-width:1.800"/>
<path class="th" d="M1127 986.500 L1146 985.500 M1131 992.500 L1149 988.500" style="stroke:#fff"/>
</g>
<g id="pad0G8">
<defs><pattern id="stip" width="5" height="5" patternUnits="userSpaceOnUse" patternTransform="rotate(28)"><circle cx="1.200" cy="1.200" r="0.800" fill="#222"/><circle cx="3.700" cy="3.600" r="0.650" fill="#333"/></pattern></defs>
<path class="wf" d="M1206.600 970.400 L1210.500 970.400 L1220.200 996.600 L1216.300 1003.400 Q1210 1001 1207.600 994.700 Z"/>
<ellipse class="wf" cx="1214" cy="997" rx="3" ry="5" transform="rotate(-25 1214 997)" style="stroke-width:1.800"/>
<path d="M1151.800 923.900 L1162 923 Q1172 927 1179.500 932.600 Q1190 940 1196.900 946.200 Q1203 952 1206.600 957.800 Q1208.500 963 1206.600 967.500 Q1204 973 1199.800 977.200 Q1193 974 1187.200 969.500 Q1180 962 1172.700 955.900 Q1166 950 1160 946.200 L1151.800 941.400 Z" fill="#fff" stroke="none"/>
<path d="M1151.800 923.900 L1162 923 Q1172 927 1179.500 932.600 Q1190 940 1196.900 946.200 Q1203 952 1206.600 957.800 Q1208.500 963 1206.600 967.500 Q1204 973 1199.800 977.200 Q1193 974 1187.200 969.500 Q1180 962 1172.700 955.900 Q1166 950 1160 946.200 L1151.800 941.400 Z" fill="url(#stip)" stroke="#0c0c0c" stroke-width="3.800" stroke-linejoin="round"/>
<!-- small clip above pad -->
<path class="bk" d="M1176 912 L1180 906.500 L1188 909 L1199 916 L1201 922 L1207 926 L1204 931 L1197 928.500 L1190 932 L1186 925 L1181 921 Z"/>
<path class="wf" d="M1181 912 l4 -1 l2 4 l-4 2 z" style="stroke-width:1.400"/>
<path class="th" d="M1190 919 l6 4" style="stroke:#fff"/>
<path class="ln" d="M1199 916 L1209 921 L1211 926 M1186 927 L1188 940 L1195 943" style="stroke-width:1.800"/>
</g>
<g id="clip0603">
<path class="wf" d="M879 1297 L884 1291 L890 1289 L897 1291 L901 1296 L908 1299 Q914.500 1301 914.500 1306.700 Q914.500 1312 908 1313.500 L900 1315 L893 1313 L880 1318 Z"/>
<path class="bk" d="M884 1291 L890 1288.500 L896 1290.500 L900 1296 L907 1299 L914 1302 L914 1311.500 L907 1313.500 L899 1315 L893 1312.500 L889 1300 Z"/>
<ellipse class="wf" cx="903.500" cy="1306.500" rx="4.500" ry="5.500" style="stroke-width:1.600"/>
<path class="th" d="M890.500 1296 q-3 10 1 16 M895 1296 q-3 9 1 16" style="stroke:#fff"/>
<path class="ln" d="M879 1297 L880 1318 L893 1313 M879 1297 L889 1300" style="stroke-width:2"/>
</g>
<g id="screws">
<g id="sc1">
<path class="wf" style="stroke-width:2" d="M759.800 1330.500 L764 1341 L765.800 1355 L754.200 1355 L756 1341 Z"/>
<path class="bk" d="M759.800 1330 L762.600 1337.500 L757 1337.500 Z M756.200 1340.200 L763.800 1340.200 L764.500 1343.200 L755.600 1343.200 Z M755.200 1346 L764.900 1346 L765.300 1349 L754.800 1349 Z M754.600 1351.600 L765.500 1351.600 L765.800 1354 L754.300 1354 Z"/>
<ellipse class="wf" cx="761" cy="1357" rx="12" ry="5.600"/>
<path class="wf" d="M753 1360 L753 1366 Q761 1371 769 1366 L769 1360"/>
<ellipse class="wf" cx="761" cy="1356.500" rx="6" ry="2.800" style="stroke-width:1.800"/>
<path class="bk" d="M756.500 1349 h7.500 v7 h-7.500z"/>
</g>
<g id="sc2" transform="translate(63.800 31.500)">
<path class="wf" style="stroke-width:2" d="M759.800 1330.500 L764 1341 L765.800 1355 L754.200 1355 L756 1341 Z"/>
<path class="bk" d="M759.800 1330 L762.600 1337.500 L757 1337.500 Z M756.200 1340.200 L763.800 1340.200 L764.500 1343.200 L755.600 1343.200 Z M755.200 1346 L764.900 1346 L765.300 1349 L754.800 1349 Z M754.600 1351.600 L765.500 1351.600 L765.800 1354 L754.300 1354 Z"/>
<ellipse class="wf" cx="761" cy="1357" rx="12" ry="5.600"/>
<path class="wf" d="M753 1360 L753 1366 Q761 1371 769 1366 L769 1360"/>
<ellipse class="wf" cx="761" cy="1356.500" rx="6" ry="2.800" style="stroke-width:1.800"/>
<path class="bk" d="M756.500 1349 h7.500 v7 h-7.500z"/>
</g>
</g>
<g id="labels" font-family="Liberation Sans, sans-serif" font-weight="bold">
<rect x="339.8" y="370.5" width="157.9" height="42.0" fill="#fff" stroke="#0c0c0c" stroke-width="3.6"/>
<path d="M340.4 370.0V413.0M496.9 370.0V413.0" stroke="#0c0c0c" stroke-width="4.8" fill="none"/>
<text transform="translate(360.0,406.3) scale(0.53,1)" text-anchor="middle" font-size="43.5" fill="#0c0c0c" stroke="#0c0c0c" stroke-width="0">5</text>
<text transform="translate(379.1,406.3) scale(0.53,1)" text-anchor="middle" font-size="43.5" fill="#0c0c0c" stroke="#0c0c0c" stroke-width="0">0</text>
<rect x="391.1" y="390.6" width="14" height="3.0" fill="#0c0c0c"/>
<text transform="translate(417.1,406.3) scale(0.53,1)" text-anchor="middle" font-size="43.5" fill="#0c0c0c" stroke="#0c0c0c" stroke-width="0">2</text>
<text transform="translate(436.2,406.3) scale(0.53,1)" text-anchor="middle" font-size="43.5" fill="#0c0c0c" stroke="#0c0c0c" stroke-width="0">8</text>
<text transform="translate(455.2,406.3) scale(0.5,1)" text-anchor="middle" font-size="43.5" fill="#0c0c0c" stroke="#0c0c0c" stroke-width="0">Y</text>
<rect x="284.8" y="617.0" width="154.9" height="41.0" fill="#fff" stroke="#0c0c0c" stroke-width="3.6"/>
<path d="M285.4 616.5V658.5M438.9 616.5V658.5" stroke="#0c0c0c" stroke-width="4.8" fill="none"/>
<text transform="translate(304.8,653.8) scale(0.53,1)" text-anchor="middle" font-size="43.5" fill="#0c0c0c" stroke="#0c0c0c" stroke-width="0">5</text>
<text transform="translate(323.9,653.8) scale(0.53,1)" text-anchor="middle" font-size="43.5" fill="#0c0c0c" stroke="#0c0c0c" stroke-width="0">0</text>
<rect x="335.9" y="638.1" width="14" height="3.0" fill="#0c0c0c"/>
<text transform="translate(362.0,653.8) scale(0.53,1)" text-anchor="middle" font-size="43.5" fill="#0c0c0c" stroke="#0c0c0c" stroke-width="0">3</text>
<text transform="translate(381.0,653.8) scale(0.53,1)" text-anchor="middle" font-size="43.5" fill="#0c0c0c" stroke="#0c0c0c" stroke-width="0">3</text>
<text transform="translate(400.1,653.8) scale(0.53,1)" text-anchor="middle" font-size="43.5" fill="#0c0c0c" stroke="#0c0c0c" stroke-width="0">5</text>
<rect x="101.8" y="781.0" width="156.9" height="40.0" fill="#fff" stroke="#0c0c0c" stroke-width="3.6"/>
<path d="M102.4 780.5V821.5M257.9 780.5V821.5" stroke="#0c0c0c" stroke-width="4.8" fill="none"/>
<text transform="translate(121.8,815.3) scale(0.53,1)" text-anchor="middle" font-size="43.5" fill="#0c0c0c" stroke="#0c0c0c" stroke-width="0">5</text>
<text transform="translate(140.8,815.3) scale(0.53,1)" text-anchor="middle" font-size="43.5" fill="#0c0c0c" stroke="#0c0c0c" stroke-width="0">0</text>
<rect x="152.9" y="799.6" width="14" height="3.0" fill="#0c0c0c"/>
<text transform="translate(178.9,815.3) scale(0.53,1)" text-anchor="middle" font-size="43.5" fill="#0c0c0c" stroke="#0c0c0c" stroke-width="0">3</text>
<text transform="translate(198.0,815.3) scale(0.53,1)" text-anchor="middle" font-size="43.5" fill="#0c0c0c" stroke="#0c0c0c" stroke-width="0">3</text>
<text transform="translate(217.1,815.3) scale(0.53,1)" text-anchor="middle" font-size="43.5" fill="#0c0c0c" stroke="#0c0c0c" stroke-width="0">5</text>
<rect x="244.8" y="918.0" width="153.9" height="41.0" fill="#fff" stroke="#0c0c0c" stroke-width="3.6"/>
<path d="M245.4 917.5V959.5M397.9 917.5V959.5" stroke="#0c0c0c" stroke-width="4.8" fill="none"/>
<text transform="translate(265.3,954.8) scale(0.53,1)" text-anchor="middle" font-size="43.5" fill="#0c0c0c" stroke="#0c0c0c" stroke-width="0">5</text>
<text transform="translate(284.4,954.8) scale(0.53,1)" text-anchor="middle" font-size="43.5" fill="#0c0c0c" stroke="#0c0c0c" stroke-width="0">0</text>
<rect x="296.4" y="939.1" width="14" height="3.0" fill="#0c0c0c"/>
<text transform="translate(322.5,954.8) scale(0.53,1)" text-anchor="middle" font-size="43.5" fill="#0c0c0c" stroke="#0c0c0c" stroke-width="0">2</text>
<text transform="translate(341.5,954.8) scale(0.53,1)" text-anchor="middle" font-size="43.5" fill="#0c0c0c" stroke="#0c0c0c" stroke-width="0">8</text>
<text transform="translate(360.6,954.8) scale(0.5,1)" text-anchor="middle" font-size="43.5" fill="#0c0c0c" stroke="#0c0c0c" stroke-width="0">X</text>
<rect x="632.8" y="521.0" width="154.9" height="40.0" fill="#fff" stroke="#0c0c0c" stroke-width="3.6"/>
<path d="M633.4 520.5V561.5M786.9 520.5V561.5" stroke="#0c0c0c" stroke-width="4.8" fill="none"/>
<text transform="translate(652.8,555.8) scale(0.53,1)" text-anchor="middle" font-size="43.5" fill="#0c0c0c" stroke="#0c0c0c" stroke-width="0">5</text>
<text transform="translate(671.8,555.8) scale(0.53,1)" text-anchor="middle" font-size="43.5" fill="#0c0c0c" stroke="#0c0c0c" stroke-width="0">0</text>
<rect x="683.9" y="540.1" width="14" height="3.0" fill="#0c0c0c"/>
<text transform="translate(709.9,555.8) scale(0.53,1)" text-anchor="middle" font-size="43.5" fill="#0c0c0c" stroke="#0c0c0c" stroke-width="0">2</text>
<text transform="translate(729.0,555.8) scale(0.5,1)" text-anchor="middle" font-size="43.5" fill="#0c0c0c" stroke="#0c0c0c" stroke-width="0">C</text>
<text transform="translate(748.0,555.8) scale(0.53,1)" text-anchor="middle" font-size="43.5" fill="#0c0c0c" stroke="#0c0c0c" stroke-width="0">6</text>
<rect x="571.8" y="919.0" width="156.4" height="41.5" fill="#fff" stroke="#0c0c0c" stroke-width="3.6"/>
<path d="M572.4 918.5V961.0M727.4 918.5V961.0" stroke="#0c0c0c" stroke-width="4.8" fill="none"/>
<text transform="translate(591.8,954.8) scale(0.53,1)" text-anchor="middle" font-size="43.5" fill="#0c0c0c" stroke="#0c0c0c" stroke-width="0">5</text>
<text transform="translate(610.8,954.8) scale(0.53,1)" text-anchor="middle" font-size="43.5" fill="#0c0c0c" stroke="#0c0c0c" stroke-width="0">0</text>
<rect x="622.9" y="939.1" width="14" height="3.0" fill="#0c0c0c"/>
<text transform="translate(648.9,954.8) scale(0.53,1)" text-anchor="middle" font-size="43.5" fill="#0c0c0c" stroke="#0c0c0c" stroke-width="0">2</text>
<text transform="translate(668.0,954.8) scale(0.5,1)" text-anchor="middle" font-size="43.5" fill="#0c0c0c" stroke="#0c0c0c" stroke-width="0">C</text>
<text transform="translate(687.0,954.8) scale(0.53,1)" text-anchor="middle" font-size="43.5" fill="#0c0c0c" stroke="#0c0c0c" stroke-width="0">6</text>
<rect x="922.8" y="502.5" width="155.9" height="41.0" fill="none" stroke="#0c0c0c" stroke-width="3.6"/>
<path d="M923.4 502.0V544.0M1077.9 502.0V544.0" stroke="#0c0c0c" stroke-width="4.8" fill="none"/>
<text transform="translate(943.3,535.8) scale(0.53,1)" text-anchor="middle" font-size="43.5" fill="#5a0a08" stroke="#5a0a08" stroke-width="0">5</text>
<text transform="translate(962.3,535.8) scale(0.53,1)" text-anchor="middle" font-size="43.5" fill="#5a0a08" stroke="#5a0a08" stroke-width="0">0</text>
<rect x="974.4" y="520.1" width="14" height="3.0" fill="#5a0a08"/>
<text transform="translate(1000.4,535.8) scale(0.53,1)" text-anchor="middle" font-size="43.5" fill="#5a0a08" stroke="#5a0a08" stroke-width="0">2</text>
<text transform="translate(1019.5,535.8) scale(0.53,1)" text-anchor="middle" font-size="43.5" fill="#5a0a08" stroke="#5a0a08" stroke-width="0">6</text>
<text transform="translate(1038.5,535.8) scale(0.53,1)" text-anchor="middle" font-size="43.5" fill="#5a0a08" stroke="#5a0a08" stroke-width="0">0</text>
<text transform="translate(1057.6,535.8) scale(0.5,1)" text-anchor="middle" font-size="43.5" fill="#5a0a08" stroke="#5a0a08" stroke-width="0">D</text>
<rect x="558.3" y="1042.0" width="155.9" height="41.0" fill="#fff" stroke="#0c0c0c" stroke-width="3.6"/>
<path d="M558.9 1041.5V1083.5M713.4 1041.5V1083.5" stroke="#0c0c0c" stroke-width="4.8" fill="none"/>
<text transform="translate(577.8,1075.8) scale(0.53,1)" text-anchor="middle" font-size="43.5" fill="#0c0c0c" stroke="#0c0c0c" stroke-width="0">5</text>
<text transform="translate(596.8,1075.8) scale(0.53,1)" text-anchor="middle" font-size="43.5" fill="#0c0c0c" stroke="#0c0c0c" stroke-width="0">0</text>
<rect x="608.9" y="1060.1" width="14" height="3.0" fill="#0c0c0c"/>
<text transform="translate(634.9,1075.8) scale(0.53,1)" text-anchor="middle" font-size="43.5" fill="#0c0c0c" stroke="#0c0c0c" stroke-width="0">0</text>
<text transform="translate(654.0,1075.8) scale(0.53,1)" text-anchor="middle" font-size="43.5" fill="#0c0c0c" stroke="#0c0c0c" stroke-width="0">3</text>
<text transform="translate(673.0,1075.8) scale(0.53,1)" text-anchor="middle" font-size="43.5" fill="#0c0c0c" stroke="#0c0c0c" stroke-width="0">2</text>
<text transform="translate(692.1,1075.8) scale(0.5,1)" text-anchor="middle" font-size="43.5" fill="#0c0c0c" stroke="#0c0c0c" stroke-width="0">B</text>
<rect x="357.8" y="1091.5" width="155.9" height="80.0" fill="#fff" stroke="#0c0c0c" stroke-width="3.6"/>
<path d="M358.4 1091.0V1172.0M512.9 1091.0V1172.0" stroke="#0c0c0c" stroke-width="4.8" fill="none"/>
<text transform="translate(376.8,1125.3) scale(0.53,1)" text-anchor="middle" font-size="43.5" fill="#0c0c0c" stroke="#0c0c0c" stroke-width="0">5</text>
<text transform="translate(395.9,1125.3) scale(0.53,1)" text-anchor="middle" font-size="43.5" fill="#0c0c0c" stroke="#0c0c0c" stroke-width="0">0</text>
<rect x="407.9" y="1109.6" width="14" height="3.0" fill="#0c0c0c"/>
<text transform="translate(434.0,1125.3) scale(0.53,1)" text-anchor="middle" font-size="43.5" fill="#0c0c0c" stroke="#0c0c0c" stroke-width="0">2</text>
<text transform="translate(453.0,1125.3) scale(0.5,1)" text-anchor="middle" font-size="43.5" fill="#0c0c0c" stroke="#0c0c0c" stroke-width="0">S</text>
<text transform="translate(472.1,1125.3) scale(0.53,1)" text-anchor="middle" font-size="43.5" fill="#0c0c0c" stroke="#0c0c0c" stroke-width="0">4</text>
<text transform="translate(376.8,1166.8) scale(0.53,1)" text-anchor="middle" font-size="43.5" fill="#0c0c0c" stroke="#0c0c0c" stroke-width="0">5</text>
<text transform="translate(395.9,1166.8) scale(0.53,1)" text-anchor="middle" font-size="43.5" fill="#0c0c0c" stroke="#0c0c0c" stroke-width="0">0</text>
<rect x="407.9" y="1151.1" width="14" height="3.0" fill="#0c0c0c"/>
<text transform="translate(434.0,1166.8) scale(0.53,1)" text-anchor="middle" font-size="43.5" fill="#0c0c0c" stroke="#0c0c0c" stroke-width="0">2</text>
<text transform="translate(453.0,1166.8) scale(0.5,1)" text-anchor="middle" font-size="43.5" fill="#0c0c0c" stroke="#0c0c0c" stroke-width="0">S</text>
<text transform="translate(472.1,1166.8) scale(0.53,1)" text-anchor="middle" font-size="43.5" fill="#0c0c0c" stroke="#0c0c0c" stroke-width="0">4</text>
<text transform="translate(491.1,1166.8) scale(0.5,1)" text-anchor="middle" font-size="43.5" fill="#0c0c0c" stroke="#0c0c0c" stroke-width="0">A</text>
<rect x="908.8" y="995.0" width="155.9" height="41.5" fill="#fff" stroke="#0c0c0c" stroke-width="3.6"/>
<path d="M909.4 994.5V1037.0M1063.9 994.5V1037.0" stroke="#0c0c0c" stroke-width="4.8" fill="none"/>
<text transform="translate(928.8,1030.3) scale(0.53,1)" text-anchor="middle" font-size="43.5" fill="#0c0c0c" stroke="#0c0c0c" stroke-width="0">5</text>
<text transform="translate(947.8,1030.3) scale(0.53,1)" text-anchor="middle" font-size="43.5" fill="#0c0c0c" stroke="#0c0c0c" stroke-width="0">0</text>
<rect x="959.9" y="1014.6" width="14" height="3.0" fill="#0c0c0c"/>
<text transform="translate(985.9,1030.3) scale(0.53,1)" text-anchor="middle" font-size="43.5" fill="#0c0c0c" stroke="#0c0c0c" stroke-width="0">2</text>
<text transform="translate(1005.0,1030.3) scale(0.53,1)" text-anchor="middle" font-size="43.5" fill="#0c0c0c" stroke="#0c0c0c" stroke-width="0">3</text>
<text transform="translate(1024.0,1030.3) scale(0.53,1)" text-anchor="middle" font-size="43.5" fill="#0c0c0c" stroke="#0c0c0c" stroke-width="0">3</text>
<text transform="translate(1043.1,1030.3) scale(0.5,1)" text-anchor="middle" font-size="43.5" fill="#0c0c0c" stroke="#0c0c0c" stroke-width="0">C</text>
<rect x="1055.3" y="834.0" width="157.4" height="41.0" fill="#fff" stroke="#0c0c0c" stroke-width="3.6"/>
<path d="M1055.9 833.5V875.5M1211.9 833.5V875.5" stroke="#0c0c0c" stroke-width="4.8" fill="none"/>
<text transform="translate(1075.3,869.8) scale(0.53,1)" text-anchor="middle" font-size="43.5" fill="#0c0c0c" stroke="#0c0c0c" stroke-width="0">5</text>
<text transform="translate(1094.3,869.8) scale(0.53,1)" text-anchor="middle" font-size="43.5" fill="#0c0c0c" stroke="#0c0c0c" stroke-width="0">0</text>
<rect x="1106.4" y="854.1" width="14" height="3.0" fill="#0c0c0c"/>
<text transform="translate(1132.5,869.8) scale(0.53,1)" text-anchor="middle" font-size="43.5" fill="#0c0c0c" stroke="#0c0c0c" stroke-width="0">0</text>
<text transform="translate(1151.5,869.8) scale(0.53,1)" text-anchor="middle" font-size="43.5" fill="#0c0c0c" stroke="#0c0c0c" stroke-width="0">3</text>
<text transform="translate(1170.5,869.8) scale(0.53,1)" text-anchor="middle" font-size="43.5" fill="#0c0c0c" stroke="#0c0c0c" stroke-width="0">6</text>
<text transform="translate(1189.6,869.8) scale(0.5,1)" text-anchor="middle" font-size="43.5" fill="#0c0c0c" stroke="#0c0c0c" stroke-width="0">C</text>
<rect x="1177.3" y="782.0" width="155.4" height="39.0" fill="#fff" stroke="#0c0c0c" stroke-width="3.6"/>
<path d="M1177.9 781.5V821.5M1331.9 781.5V821.5" stroke="#0c0c0c" stroke-width="4.8" fill="none"/>
<text transform="translate(1196.8,815.3) scale(0.53,1)" text-anchor="middle" font-size="43.5" fill="#0c0c0c" stroke="#0c0c0c" stroke-width="0">5</text>
<text transform="translate(1215.8,815.3) scale(0.53,1)" text-anchor="middle" font-size="43.5" fill="#0c0c0c" stroke="#0c0c0c" stroke-width="0">0</text>
<rect x="1227.9" y="799.6" width="14" height="3.0" fill="#0c0c0c"/>
<text transform="translate(1254.0,815.3) scale(0.53,1)" text-anchor="middle" font-size="43.5" fill="#0c0c0c" stroke="#0c0c0c" stroke-width="0">0</text>
<text transform="translate(1273.0,815.3) scale(0.5,1)" text-anchor="middle" font-size="43.5" fill="#0c0c0c" stroke="#0c0c0c" stroke-width="0">G</text>
<text transform="translate(1292.0,815.3) scale(0.53,1)" text-anchor="middle" font-size="43.5" fill="#0c0c0c" stroke="#0c0c0c" stroke-width="0">8</text>
<rect x="1205.8" y="1177.0" width="154.9" height="40.5" fill="#fff" stroke="#0c0c0c" stroke-width="3.6"/>
<path d="M1206.4 1176.5V1218.0M1359.9 1176.5V1218.0" stroke="#0c0c0c" stroke-width="4.8" fill="none"/>
<text transform="translate(1225.8,1210.8) scale(0.53,1)" text-anchor="middle" font-size="43.5" fill="#0c0c0c" stroke="#0c0c0c" stroke-width="0">5</text>
<text transform="translate(1244.8,1210.8) scale(0.53,1)" text-anchor="middle" font-size="43.5" fill="#0c0c0c" stroke="#0c0c0c" stroke-width="0">0</text>
<rect x="1256.9" y="1195.1" width="14" height="3.0" fill="#0c0c0c"/>
<text transform="translate(1283.0,1210.8) scale(0.53,1)" text-anchor="middle" font-size="43.5" fill="#0c0c0c" stroke="#0c0c0c" stroke-width="0">2</text>
<text transform="translate(1302.0,1210.8) scale(0.53,1)" text-anchor="middle" font-size="43.5" fill="#0c0c0c" stroke="#0c0c0c" stroke-width="0">2</text>
<text transform="translate(1321.0,1210.8) scale(0.53,1)" text-anchor="middle" font-size="43.5" fill="#0c0c0c" stroke="#0c0c0c" stroke-width="0">1</text>
</g>
<g id="pnums" font-family="Liberation Sans, sans-serif">
<text transform="translate(872.1,978) scale(0.76,1)" text-anchor="middle" font-size="32.8" fill="#0c0c0c" stroke="#0c0c0c" stroke-width="0.9">9</text>
<text transform="translate(889.3,978) scale(0.76,1)" text-anchor="middle" font-size="32.8" fill="#0c0c0c" stroke="#0c0c0c" stroke-width="0.9">9</text>
<text transform="translate(906.6,978) scale(0.76,1)" text-anchor="middle" font-size="32.8" fill="#0c0c0c" stroke="#0c0c0c" stroke-width="0.9">9</text>
<text transform="translate(923.8,978) scale(0.76,1)" text-anchor="middle" font-size="32.8" fill="#0c0c0c" stroke="#0c0c0c" stroke-width="0.9">1</text>
<text transform="translate(941.1,978) scale(0.76,1)" text-anchor="middle" font-size="32.8" fill="#0c0c0c" stroke="#0c0c0c" stroke-width="0.9">0</text>
<rect x="952.8" y="966.1" width="11" height="2.6" fill="#0c0c0c"/>
<text transform="translate(975.5,978) scale(0.76,1)" text-anchor="middle" font-size="32.8" fill="#0c0c0c" stroke="#0c0c0c" stroke-width="0.9">0</text>
<text transform="translate(992.8,978) scale(0.76,1)" text-anchor="middle" font-size="32.8" fill="#0c0c0c" stroke="#0c0c0c" stroke-width="0.9">5</text>
<text transform="translate(1010.0,978) scale(0.76,1)" text-anchor="middle" font-size="32.8" fill="#0c0c0c" stroke="#0c0c0c" stroke-width="0.9">0</text>
<text transform="translate(1027.3,978) scale(0.76,1)" text-anchor="middle" font-size="32.8" fill="#0c0c0c" stroke="#0c0c0c" stroke-width="0.9">2</text>
<text transform="translate(975.1,1316.5) scale(0.76,1)" text-anchor="middle" font-size="32.8" fill="#0c0c0c" stroke="#0c0c0c" stroke-width="0.9">9</text>
<text transform="translate(992.3,1316.5) scale(0.76,1)" text-anchor="middle" font-size="32.8" fill="#0c0c0c" stroke="#0c0c0c" stroke-width="0.9">9</text>
<text transform="translate(1009.6,1316.5) scale(0.76,1)" text-anchor="middle" font-size="32.8" fill="#0c0c0c" stroke="#0c0c0c" stroke-width="0.9">9</text>
<text transform="translate(1026.8,1316.5) scale(0.76,1)" text-anchor="middle" font-size="32.8" fill="#0c0c0c" stroke="#0c0c0c" stroke-width="0.9">1</text>
<text transform="translate(1044.1,1316.5) scale(0.76,1)" text-anchor="middle" font-size="32.8" fill="#0c0c0c" stroke="#0c0c0c" stroke-width="0.9">0</text>
<rect x="1055.8" y="1304.6" width="11" height="2.6" fill="#0c0c0c"/>
<text transform="translate(1078.5,1316.5) scale(0.76,1)" text-anchor="middle" font-size="32.8" fill="#0c0c0c" stroke="#0c0c0c" stroke-width="0.9">0</text>
<text transform="translate(1095.8,1316.5) scale(0.76,1)" text-anchor="middle" font-size="32.8" fill="#0c0c0c" stroke="#0c0c0c" stroke-width="0.9">6</text>
<text transform="translate(1113.0,1316.5) scale(0.76,1)" text-anchor="middle" font-size="32.8" fill="#0c0c0c" stroke="#0c0c0c" stroke-width="0.9">0</text>
<text transform="translate(1130.3,1316.5) scale(0.76,1)" text-anchor="middle" font-size="32.8" fill="#0c0c0c" stroke="#0c0c0c" stroke-width="0.9">3</text>
<text transform="translate(333.1,1213.5) scale(0.76,1)" text-anchor="middle" font-size="32.8" fill="#0c0c0c" stroke="#0c0c0c" stroke-width="0.9">9</text>
<text transform="translate(350.3,1213.5) scale(0.76,1)" text-anchor="middle" font-size="32.8" fill="#0c0c0c" stroke="#0c0c0c" stroke-width="0.9">0</text>
<text transform="translate(367.6,1213.5) scale(0.76,1)" text-anchor="middle" font-size="32.8" fill="#0c0c0c" stroke="#0c0c0c" stroke-width="0.9">7</text>
<text transform="translate(384.8,1213.5) scale(0.76,1)" text-anchor="middle" font-size="32.8" fill="#0c0c0c" stroke="#0c0c0c" stroke-width="0.9">3</text>
<text transform="translate(402.1,1213.5) scale(0.76,1)" text-anchor="middle" font-size="32.8" fill="#0c0c0c" stroke="#0c0c0c" stroke-width="0.9">4</text>
<rect x="413.8" y="1201.6" width="11" height="2.6" fill="#0c0c0c"/>
<text transform="translate(436.5,1213.5) scale(0.76,1)" text-anchor="middle" font-size="32.8" fill="#0c0c0c" stroke="#0c0c0c" stroke-width="0.9">0</text>
<text transform="translate(453.8,1213.5) scale(0.76,1)" text-anchor="middle" font-size="32.8" fill="#0c0c0c" stroke="#0c0c0c" stroke-width="0.9">6</text>
<text transform="translate(471.0,1213.5) scale(0.76,1)" text-anchor="middle" font-size="32.8" fill="#0c0c0c" stroke="#0c0c0c" stroke-width="0.9">1</text>
<text transform="translate(488.3,1213.5) scale(0.76,1)" text-anchor="middle" font-size="32.8" fill="#0c0c0c" stroke="#0c0c0c" stroke-width="0.9">6</text>
<text transform="translate(505.5,1213.5) scale(0.76,1)" text-anchor="middle" font-size="32.8" fill="#0c0c0c" stroke="#0c0c0c" stroke-width="0.9">8</text>
<text transform="translate(516.1,1396) scale(0.76,1)" text-anchor="middle" font-size="32.8" fill="#0c0c0c" stroke="#0c0c0c" stroke-width="0.9">9</text>
<text transform="translate(533.3,1396) scale(0.76,1)" text-anchor="middle" font-size="32.8" fill="#0c0c0c" stroke="#0c0c0c" stroke-width="0.9">0</text>
<text transform="translate(550.6,1396) scale(0.76,1)" text-anchor="middle" font-size="32.8" fill="#0c0c0c" stroke="#0c0c0c" stroke-width="0.9">8</text>
<text transform="translate(567.8,1396) scale(0.76,1)" text-anchor="middle" font-size="32.8" fill="#0c0c0c" stroke="#0c0c0c" stroke-width="0.9">6</text>
<text transform="translate(585.1,1396) scale(0.76,1)" text-anchor="middle" font-size="32.8" fill="#0c0c0c" stroke="#0c0c0c" stroke-width="0.9">3</text>
<rect x="596.8" y="1384.1" width="11" height="2.6" fill="#0c0c0c"/>
<text transform="translate(619.5,1396) scale(0.76,1)" text-anchor="middle" font-size="32.8" fill="#0c0c0c" stroke="#0c0c0c" stroke-width="0.9">0</text>
<text transform="translate(636.8,1396) scale(0.76,1)" text-anchor="middle" font-size="32.8" fill="#0c0c0c" stroke="#0c0c0c" stroke-width="0.9">5</text>
<text transform="translate(654.0,1396) scale(0.76,1)" text-anchor="middle" font-size="32.8" fill="#0c0c0c" stroke="#0c0c0c" stroke-width="0.9">1</text>
<text transform="translate(671.3,1396) scale(0.76,1)" text-anchor="middle" font-size="32.8" fill="#0c0c0c" stroke="#0c0c0c" stroke-width="0.9">6</text>
</g>
<g id="watermarks" class="wm" opacity="0.86">
<text x="328" y="627">www.epcdata.ru</text>
<text x="866" y="627">www.epcdata.ru</text>
<text x="1404" y="627">www.epcdata.ru</text>
<text x="-28" y="696">www.epcdata.ru</text>
<text x="510" y="696">www.epcdata.ru</text>
<text x="1049" y="696">www.epcdata.ru</text>
<text x="328" y="1166">www.epcdata.ru</text>
<text x="866" y="1166">www.epcdata.ru</text>
<text x="1404" y="1166">www.epcdata.ru</text>
<text x="510" y="1234">www.epcdata.ru</text>
<text x="1049" y="1234">www.epcdata.ru</text>
</g>
</g>
<g id="logo">
<g fill="#0b0b0b">
<path d="M26.0 1784.2 L26.0 1746.5 L34.0 1746.5 L41.0 1769.0 L48.0 1746.5 L56.0 1746.5 L56.0 1784.2 L49.6 1784.2 L49.6 1760.0 L43.7 1779.5 L38.3 1779.5 L32.4 1760.0 L32.4 1784.2Z" />
<path d="M66.4 1746.5 L72.9 1746.5 L72.9 1762.6 L75.2 1765.5 L72.9 1768.6 L72.9 1784.2 L66.4 1784.2 L66.4 1768.4 L68.5 1765.8 L66.4 1762.8Z" />
<path fill-rule="evenodd" d="M80.5 1784.2 L88.8 1746.5 L97.7 1746.5 L106.0 1784.2 L99.6 1784.2 L97.8 1774.3 L88.7 1774.3 L86.9 1784.2 Z M93.2 1753.5 L89.8 1769.1 L96.7 1769.1 Z"/>
<path d="M109.0 1746.5 L130.7 1746.5 L130.7 1751.7 L123.0 1751.7 L123.0 1762.6 L125.3 1765.5 L123.0 1768.6 L123.0 1784.2 L116.9 1784.2 L116.9 1768.4 L119.0 1765.8 L116.9 1762.8 L116.9 1751.7 L109.0 1751.7Z" />
<path fill-rule="evenodd" d="M133.4 1784.2 L141.8 1746.5 L150.6 1746.5 L158.9 1784.2 L152.5 1784.2 L150.7 1774.3 L141.6 1774.3 L139.8 1784.2 Z M146.2 1753.5 L142.8 1769.1 L149.6 1769.1 Z"/>
<path fill-rule="evenodd" d="M180.5 1746.5 L192.4 1746.5 Q203.2 1746.5 203.2 1757.9 Q203.2 1769.3 192.4 1769.3 L187.0 1769.3 L187.0 1784.2 L180.5 1784.2 Z M187.0 1752.1 L187.0 1763.7 L192.4 1763.7 Q196.7 1763.7 196.7 1757.9 Q196.7 1752.1 192.4 1752.1 Z"/>
<path fill-rule="evenodd" d="M206.5 1784.2 L214.8 1746.5 L223.7 1746.5 L232.0 1784.2 L225.6 1784.2 L223.8 1774.3 L214.7 1774.3 L212.9 1784.2 Z M219.2 1753.5 L215.8 1769.1 L222.7 1769.1 Z"/>
<path fill-rule="evenodd" d="M240.3 1746.5 L251.1 1746.5 Q261.9 1746.5 261.9 1757.9 Q261.9 1769.3 251.1 1769.3 L246.8 1769.3 L246.8 1784.2 L240.3 1784.2 Z M246.8 1752.1 L246.8 1763.7 L251.1 1763.7 Q255.4 1763.7 255.4 1757.9 Q255.4 1752.1 251.1 1752.1 Z"/><path d="M249.8 1767.3 L256.8 1766.3 L263.1 1784.2 L255.9 1784.2Z" />
<path d="M269.1 1746.5 L290.7 1746.5 L290.7 1751.7 L283.5 1751.7 L283.5 1762.6 L285.8 1765.5 L283.5 1768.6 L283.5 1784.2 L276.9 1784.2 L276.9 1768.4 L279.0 1765.8 L276.9 1762.8 L276.9 1751.7 L269.1 1751.7Z" />
</g>
<path d="M315.3 1757.2 Q314.8 1749.700 307.300 1749.700 Q299.700 1749.700 299.600 1756.200 Q299.600 1761.500 307.300 1765 Q315.200 1768.600 315.200 1774.500 Q315.100 1781 307.300 1781 Q299.500 1781 299.200 1773.200" fill="none" stroke="#0b0b0b" stroke-width="6.4" stroke-linecap="butt"/>
<text x="0" y="0" transform="translate(103.2,1807.6) skewX(-6) scale(0.74,1)" font-family="Liberation Sans, sans-serif" font-weight="bold" font-style="italic" font-size="18.8" fill="#2b2b2b" textLength="182" lengthAdjust="spacing">NEW ZEALAND</text>
<path fill="#c8c8c8" d="M26.00 1807.8 l4.2 -13.6 h2.9 l-4.2 13.6z M31.15 1807.8 l4.2 -13.6 h2.9 l-4.2 13.6z M36.30 1807.8 l4.2 -13.6 h2.9 l-4.2 13.6z M41.45 1807.8 l4.2 -13.6 h2.9 l-4.2 13.6z M46.60 1807.8 l4.2 -13.6 h2.9 l-4.2 13.6z M51.75 1807.8 l4.2 -13.6 h2.9 l-4.2 13.6z M56.90 1807.8 l4.2 -13.6 h2.9 l-4.2 13.6z M62.05 1807.8 l4.2 -13.6 h2.9 l-4.2 13.6z M67.20 1807.8 l4.2 -13.6 h2.9 l-4.2 13.6z M72.35 1807.8 l4.2 -13.6 h2.9 l-4.2 13.6z M77.50 1807.8 l4.2 -13.6 h2.9 l-4.2 13.6z M82.65 1807.8 l4.2 -13.6 h2.9 l-4.2 13.6z M87.80 1807.8 l4.2 -13.6 h2.9 l-4.2 13.6z M92.95 1807.8 l4.2 -13.6 h2.9 l-4.2 13.6z M246.40 1807.8 l4.2 -13.6 h2.9 l-4.2 13.6z M251.55 1807.8 l4.2 -13.6 h2.9 l-4.2 13.6z M256.70 1807.8 l4.2 -13.6 h2.9 l-4.2 13.6z M261.85 1807.8 l4.2 -13.6 h2.9 l-4.2 13.6z M267.00 1807.8 l4.2 -13.6 h2.9 l-4.2 13.6z M272.15 1807.8 l4.2 -13.6 h2.9 l-4.2 13.6z M277.30 1807.8 l4.2 -13.6 h2.9 l-4.2 13.6z M282.45 1807.8 l4.2 -13.6 h2.9 l-4.2 13.6z M287.60 1807.8 l4.2 -13.6 h2.9 l-4.2 13.6z M292.75 1807.8 l4.2 -13.6 h2.9 l-4.2 13.6z M297.90 1807.8 l4.2 -13.6 h2.9 l-4.2 13.6z M303.05 1807.8 l4.2 -13.6 h2.9 l-4.2 13.6z M308.20 1807.8 l4.2 -13.6 h2.9 l-4.2 13.6z M313.35 1807.8 l4.2 -13.6 h2.9 l-4.2 13.6z"/>
<g id="car">
<path fill="#c5101c" d="M142.8 1696.6 Q144.5 1689 149.5 1685.4 Q158 1682.300 170 1682.300 Q182 1682.300 191.800 1685.400 Q197 1689 200.200 1697 L198.800 1697.500 Q201.500 1696.200 203 1697.500 Q203.200 1694 206.800 1693.900 Q210.800 1694 210.800 1697.800 Q210.800 1700.500 209.200 1701.500 Q213.500 1708 215 1714 Q216 1722 215.500 1731 Q215.300 1734.400 212.600 1734.400 L131.600 1734.400 Q128.500 1734.400 128.400 1731 Q127.900 1722 129 1714 Q130.500 1708 133.600 1701.500 Q131.800 1700.400 131.900 1697.600 Q132 1693.900 135.800 1693.800 Q139.300 1693.900 139.800 1697.400 Q141 1696.300 142.800 1696.600 Z"/>
<path fill="#fff" d="M145.200 1695.300 Q147 1690 151 1687.500 Q160 1685 170 1685 Q180 1685 190.400 1687.500 Q194.500 1690 197 1695.600 L190 1694 L189.500 1696.200 L153.500 1696.400 L152.800 1694.200 Z"/>
<path fill="#fff" d="M141.100 1697.600 L151.500 1695.200 L152 1707.800 L139.900 1706.500 Z M191.800 1695.400 L202.200 1697.900 L203.400 1706.500 L192.200 1707.800 Z"/>
<ellipse fill="#fff" cx="145.700" cy="1713.600" rx="7.100" ry="2.300"/><ellipse fill="#fff" cx="198.500" cy="1713.600" rx="7.100" ry="2.300"/>
<circle fill="#fff" cx="137.800" cy="1719.400" r="1.900"/><circle fill="#fff" cx="205.600" cy="1719.400" r="1.900"/>
<ellipse fill="#fff" cx="172.300" cy="1724.800" rx="19.600" ry="3.200"/>
<rect fill="#fff" x="143.200" y="1730.100" width="5.800" height="1.700" rx="0.500"/><rect fill="#fff" x="194.700" y="1730.100" width="5.800" height="1.700" rx="0.500"/>
<path fill="#fff" d="M129.600 1710.500 Q131.500 1723 139.200 1730.800 Q133.800 1722 130.600 1710 Z M214 1710.500 Q212 1723 204.500 1730.800 Q209.800 1722 213 1710 Z"/>
</g>
</g>
</svg>
</body></html>
